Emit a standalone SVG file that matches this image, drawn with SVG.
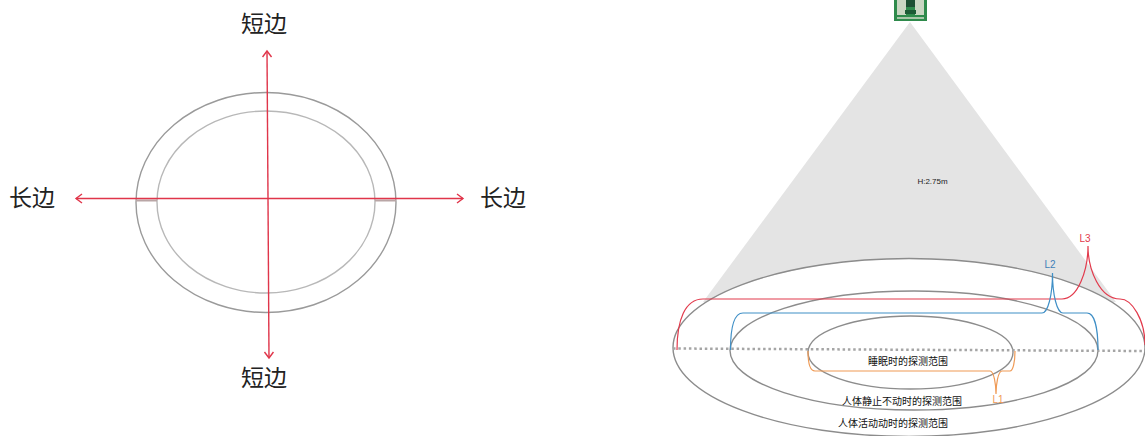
<svg xmlns="http://www.w3.org/2000/svg" width="1145" height="436" viewBox="0 0 1145 436">
<style>
.t{font-family:"Noto Sans CJK SC","Liberation Sans",sans-serif;text-anchor:middle;fill:#222}
.big{font-size:23px;font-weight:400}
.sm{font-size:10px;fill:#111}
.lb{font-family:"Liberation Sans",sans-serif;font-size:10px;text-anchor:middle}
.h{font-size:8px;fill:#222}
.ring{fill:none;stroke:#8c8c8c;stroke-width:1.4}
.ringl{fill:none;stroke:#9a9a9a;stroke-width:1.4}
.ring2{fill:none;stroke:#b8b8b8;stroke-width:1.4}
.arrow{fill:none;stroke:#e0354a;stroke-width:1.4}
.r{fill:none;stroke:#e23a4c;stroke-width:1.2}
.b{fill:none;stroke:#3f8fc6;stroke-width:1.2}
.o{fill:none;stroke:#ef9a55;stroke-width:1.2}
</style>
<defs>
<marker id="ah" markerWidth="12" markerHeight="12" refX="9" refY="6" orient="auto" markerUnits="userSpaceOnUse">
<path d="M3 1.500 L9 6 L3 10.500" fill="none" stroke="#e0354a" stroke-width="1.4"/>
</marker>
<filter id="soft" x="-10%" y="-10%" width="120%" height="120%"><feGaussianBlur stdDeviation="0.7"/></filter>
</defs>
<rect width="1145" height="436" fill="#fff"/>
<g id="left-rings">
<ellipse cx="266" cy="202.500" rx="130" ry="110" class="ringl"/>
<ellipse cx="266" cy="202" rx="109" ry="91" class="ring2"/>
<path d="M136 200.500H157M375 200.500H396" stroke="#b9a6a6" stroke-width="2"/>
</g>
<g id="left-connectors">
<path d="M268 198 L267 51" class="arrow" marker-end="url(#ah)"/>
<path d="M268 198 L269 358" class="arrow" marker-end="url(#ah)"/>
<path d="M268 198.500 L76 198.500" class="arrow" marker-end="url(#ah)"/>
<path d="M268 198.500 L463 198.500" class="arrow" marker-end="url(#ah)"/>
</g>
<g id="left-labels">
<text class="t big" x="264" y="32">短边</text>
<text class="t big" x="264" y="386">短边</text>
<text class="t big" x="32" y="206">长边</text>
<text class="t big" x="503" y="206">长边</text>
</g>
<g id="cone">
<path d="M910 22 L703 302 L1116 302 Z" fill="#e4e4e4"/>
<path d="M673 348 A236 89 0 0 1 1145 348 Z" fill="#fff"/>
<text class="lb h" x="932.500" y="184">H:2.75m</text>
</g>
<g id="sensor" filter="url(#soft)">
<rect x="894" y="0" width="33" height="21" fill="#2f8a4c"/>
<rect x="897" y="0" width="9" height="15" fill="#c9d6c2"/>
<rect x="915" y="0" width="9" height="15" fill="#c9d6c2"/>
<rect x="906" y="0" width="9" height="7" fill="#1d4f30"/>
<rect x="905" y="10" width="11" height="4" fill="#1d5a35"/>
<rect x="897" y="17" width="27" height="2" fill="#a7c6a8"/>
</g>
<g id="range-rings">
<ellipse cx="909" cy="347.500" rx="236" ry="89" class="ring"/>
<ellipse cx="914" cy="350.500" rx="184" ry="59.500" class="ring"/>
<ellipse cx="910.500" cy="352.500" rx="102.500" ry="36.500" class="ring"/>
<path d="M673 348.500 L1145 351" fill="none" stroke="#a5a5a5" stroke-width="2.500" stroke-dasharray="2.500 2.800"/>
</g>
<g id="connectors">
<path class="r" d="M677 350 C677 320 685 299 703 299 L1062 299 C1078 299 1088 270 1088 246 C1088 270 1100 299 1120 299 C1132 299 1145 320 1145 345"/>
<path class="b" d="M730.500 350 C730.500 330 733 313 743 313 L1042 313 C1048 313 1052.500 295 1052.500 273 C1052.500 295 1057 313 1063 313 L1087 313 C1095 313 1098 330 1098 350"/>
<path class="o" d="M808 351 C808 362 810 371 815 371 L990 371 C994 371 996 385 996 394 C996 385 998 371 1002 371 L1010 371 C1013 371 1015 362 1015 351"/>
</g>
<g id="labels">
<text class="t sm" x="908" y="365">睡眠时的探测范围</text>
<text class="t sm" x="902" y="405">人体静止不动时的探测范围</text>
<text class="t sm" x="893" y="427">人体活动动时的探测范围</text>
<text class="lb" x="1085" y="242" fill="#e23a4c">L3</text>
<text class="lb" x="1050" y="268" fill="#3f7fb8">L2</text>
<text class="lb" x="998" y="403" fill="#ef9a55">L1</text>
</g>
</svg>
